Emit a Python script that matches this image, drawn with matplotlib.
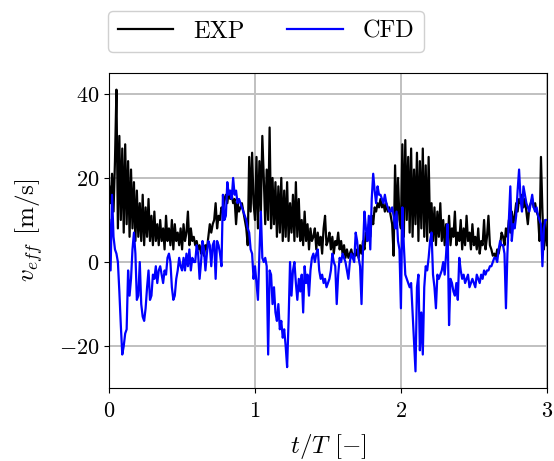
import numpy as np
import matplotlib
matplotlib.use('Agg')
import matplotlib.pyplot as plt

plt.rcParams['font.family'] = 'serif'
plt.rcParams['font.serif'] = ['cmr10']
plt.rcParams['mathtext.fontset'] = 'cm'
plt.rcParams['axes.formatter.use_mathtext'] = True
plt.rcParams.update({'font.size': 16})

##################### data (dt = 0.01) #####################
t = np.round(np.arange(0, 301) * 0.01, 2)

exp_v = [
    # 0.0 - 1.0
    18, 14, 21, 12, 24, 41, 8, 30, 10, 27,
    7, 28, 9, 24, 6, 22, 8, 19, 5, 17,
    6, 14, 5, 16, 4, 13, 6, 15, 5, 11,
    4, 12, 5, 9, 4, 10, 5, 8, 3, 11,
    5, 8, 4, 10, 3, 9, 5, 7, 4, 8,
    3, 9, 5, 7, 12, 4, 8, 5, 6, 4,
    5, 3, 4, 2, 3, 1.5, 4, 3, 6, 9,
    7, 9, 10, 14, 8, 11, 10, 13, 12, 15,
    16, 14, 17, 15, 16, 14, 15, 9, 14, 12,
    13, 14, 12, 10, 8, 4, 25, 12, 26, 14,
    # 1.0 - 2.0
    10, 25, 8, 24, 12, 30, 20, 9, 22, 10,
    32, 8, 20, 9, 19, 6, 18, 7, 20, 5,
    17, 6, 19, 5, 14, 7, 16, 5, 19, 6,
    15, 5, 10, 4, 12, 5, 9, 3, 8, 5,
    6, 8, 3, 7, 4, 6, 2, 8, 11, 4,
    5, 7, 3, 6, 2, 5, 4, 7, 3, 5,
    2, 4, 1, 3, 1, 2, 3, 1, 2, 1.5,
    3, 1, 4, 2, 5, 3, 7, 5, 9, 6,
    11, 9, 13, 12, 14, 13, 15, 13, 14, 12,
    14, 12, 13, 11, 9, 1.5, 23, 8, 20, 10,
    # 2.0 - 3.0
    8, 28, 6, 29, 10, 25, 7, 27, 6, 22,
    9, 26, 5, 24, 8, 27, 6, 23, 5, 25,
    7, 14, 5, 13, 4, 12, 6, 14, 5, 10,
    4, 9, 5, 11, 4, 8, 6, 12, 4, 7,
    5, 10, 3, 8, 4, 11, 5, 7, 3, 9,
    4, 6, 3, 8, 2, 5, 4, 10, 3, 6,
    11, 4, 3, 1.5, 2, 1, 3, 2, 4, 7,
    6, 4, 8, 6, 10, 7, 12, 9, 11, 14,
    12, 15, 14, 16, 13, 15, 12, 9, 13, 14,
    15, 13, 14, 12, 11, 5, 25, 12, 3, 10,
    4,
]

cfd_v = [
    # 0.0 - 1.0
    10, -2, 16, 6, 3, 2, 0, -7, -15, -22,
    -20, -17, -16, -2, -8, -4, 3, 7, 2, -9,
    -8, 0, -10, -13, -14, -11, -6, -2, -9, -8,
    -3, -4, -1, -5, -2, -1, -3, -5, -2, -3,
    1, 2, 0, -6, -9, -8, -4, -2, 1, -1,
    -2, 1, -2, 2, -1, 3, -2, 1, 0, 0,
    4, 2, -4, 0, 5, 3, -2, 2, 5, 4,
    -1, 4, 5, -4, 5, 4, 2, -1, 16, 10,
    11, 19, 16, 17, 15, 20, 16, 17, 14, 15,
    14, 13, 12, 11, 10, 8, 7, 3, 2, -4,
    # 1.0 - 2.0
    -1, -5, -9, 2, 12, 1, 0, 1, -1, -22,
    -2, -3, -10, -6, -12, -14, -10, -16, -14, -18,
    -16, -20, -25, -14, 0, -8, -2, 0, -5, -9,
    -4, -7, -3, -12, -1, -5, -3, -8, -2, 1,
    2, 0, 2, 3, -2, -4, -3, -5, -4, -6,
    -5, -4, -2, 2, 0, -1, -10, -3, 1, 0,
    2, 1, 0, -2, -4, 0, 2, 1, 0, 7,
    5, 1, -1, -10, 3, 12, 8, 5, 11, 3,
    15, 21, 17, 14, 18, 16, 16, 15, 14, 16,
    14, 13, 12, 12, 13, 11, 8, 12, 5, 3,
    # 2.0 - 3.0
    -11, 13, 4, -3, -4, -5, -6, -5, -12, -19,
    -26, -6, -3, -21, -12, -22, -6, -1, -2, 1,
    5, 7, -3, -6, -11, -3, -4, -3, -2, 0,
    -3, 2, 9, -15, -4, -5, -7, -8, -5, -9,
    1, -2, -4, -3, -5, -4, -3, -6, -5, -4,
    -5, -6, -3, -4, -5, -3, -4, -2, -3, -2,
    -2, -1, -1, 0, 1, 1, 0, 3, 5, 4,
    4, 2, -11, 2, 10, 18, 5, 9, 8, 11,
    17, 22, 15, 12, 18, 16, 14, 13, 12, 14,
    16, 13, 12, 13, 11, 10, 9, -1, 8, 10,
    10,
]

xticks = [0, 1, 2, 3]
yticks = [-20, 0, 20, 40]

############### plotting ####################
fig = plt.figure(figsize=(5.54, 4.61), dpi=100)
ax = fig.add_axes([0.197, 0.158, 0.79, 0.684])

ax.plot(t, exp_v, color='black', linewidth=1.6, label='EXP')
ax.plot(t, cfd_v, color='blue', linewidth=1.6, label='CFD')

ax.set_xlim(0, 3)
ax.set_ylim(-30, 45)
ax.set_xticks(xticks)
ax.set_yticks(yticks)
ax.tick_params(axis='x', pad=6)
ax.grid(True, color='#c0c0c0', linewidth=1.4)
ax.set_axisbelow(True)

ax.set_xlabel(r'$t/T$ $[-]$', fontsize=18, labelpad=8)
ax.set_ylabel(r'$v_{eff}$ [m/s]', fontsize=18, labelpad=10)

ax.legend(loc='lower left', bbox_to_anchor=(-0.003, 1.065), ncol=2,
          fontsize=17.5, handlelength=2.3, columnspacing=1.75,
          borderaxespad=0.0, fancybox=True, framealpha=1.0,
          edgecolor='#d0d0d0')

plt.savefig('out.png', dpi=100)
